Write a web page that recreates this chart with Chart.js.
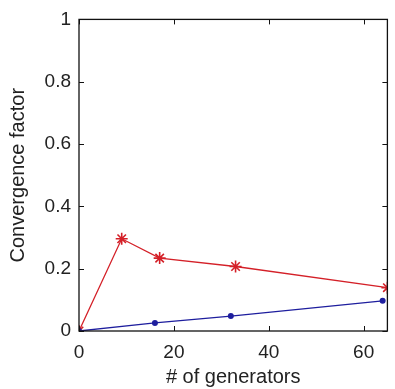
<!DOCTYPE html>
<html>
<head>
<meta charset="utf-8">
<script src="https://cdn.jsdelivr.net/npm/chart.js@4/dist/chart.umd.min.js"></script>
<style>
  html, body { margin:0; padding:0; background:#fff; }
  #wrap { width:395px; height:389px; }
</style>
</head>
<body>
<div id="wrap"><canvas id="chart"></canvas></div>
<script>
const redX = [0, 9, 17, 33, 65];
const redY = [0, 0.296, 0.234, 0.207, 0.139];
const blueX = [0, 16, 32, 64];
const blueY = [0, 0.026, 0.048, 0.097];
const xTicks = [0, 20, 40, 60];
const yTicks = [0, 0.2, 0.4, 0.6, 0.8, 1];

const RED = "#d42028";
const BLUE = "#1e1e9e";
const FONT = "'Liberation Sans', Arial, sans-serif";

const pts = (xs, ys) => xs.map((x, i) => ({ x, y: ys[i] }));

// box round the axes with MATLAB style inward ticks on all four sides
const boxPlugin = {
  id: "box",
  afterDatasetsDraw(chart) {
    const { ctx, chartArea: a, scales } = chart;
    ctx.save();
    ctx.strokeStyle = "#111";
    ctx.lineWidth = 1.3;
    ctx.strokeRect(a.left, a.top, a.right - a.left, a.bottom - a.top);
    ctx.lineWidth = 1;
    const len = 5;
    xTicks.forEach(v => {
      const px = Math.round(scales.x.getPixelForValue(v)) + 0.5;
      ctx.beginPath();
      ctx.moveTo(px, a.bottom); ctx.lineTo(px, a.bottom - len);
      ctx.moveTo(px, a.top); ctx.lineTo(px, a.top + len);
      ctx.stroke();
    });
    yTicks.forEach(v => {
      const py = Math.round(scales.y.getPixelForValue(v)) + 0.5;
      ctx.beginPath();
      ctx.moveTo(a.left, py); ctx.lineTo(a.left + len, py);
      ctx.moveTo(a.right, py); ctx.lineTo(a.right - len, py);
      ctx.stroke();
    });
    ctx.restore();
  }
};

new Chart(document.getElementById("chart"), {
  type: "scatter",
  data: {
    datasets: [
      {
        data: pts(blueX, blueY),
        showLine: true,
        borderColor: BLUE,
        backgroundColor: BLUE,
        borderWidth: 1.3,
        pointStyle: "circle",
        pointRadius: 3,
        pointBorderWidth: 0
      },
      {
        data: pts(redX, redY),
        showLine: true,
        borderColor: RED,
        backgroundColor: RED,
        borderWidth: 1.3,
        pointStyle: "star",
        pointRadius: 6,
        pointBorderWidth: 1.6
      }
    ]
  },
  options: {
    responsive: true,
    maintainAspectRatio: false,
    animation: false,
    events: [],
    layout: { padding: { top: 14, right: -3, left: 0, bottom: 0 } },
    plugins: { legend: { display: false }, tooltip: { enabled: false } },
    scales: {
      x: {
        type: "linear",
        min: 0, max: 65,
        afterBuildTicks: (s) => { s.ticks = xTicks.map(v => ({ value: v })); },
        afterFit: (s) => { s.height = 58; },
        grid: { display: false, drawTicks: false },
        border: { display: false },
        ticks: { color: "#222", padding: 10, font: { family: FONT, size: 19 }, callback: (v) => String(v) },
        title: {
          display: true, text: "# of generators", color: "#222",
          padding: { top: 0, bottom: 0 }, font: { family: FONT, size: 20 }
        }
      },
      y: {
        type: "linear",
        min: 0, max: 1,
        afterBuildTicks: (s) => { s.ticks = yTicks.map(v => ({ value: v })); },
        afterFit: (s) => { s.width = 79; },
        grid: { display: false, drawTicks: false },
        border: { display: false },
        ticks: { color: "#222", padding: 8, font: { family: FONT, size: 19 }, callback: (v) => String(v) },
        title: {
          display: true, text: "Convergence factor", color: "#222",
          padding: { top: 6, bottom: 0 }, font: { family: FONT, size: 20 }
        }
      }
    }
  },
  plugins: [boxPlugin]
});
</script>
</body>
</html>
